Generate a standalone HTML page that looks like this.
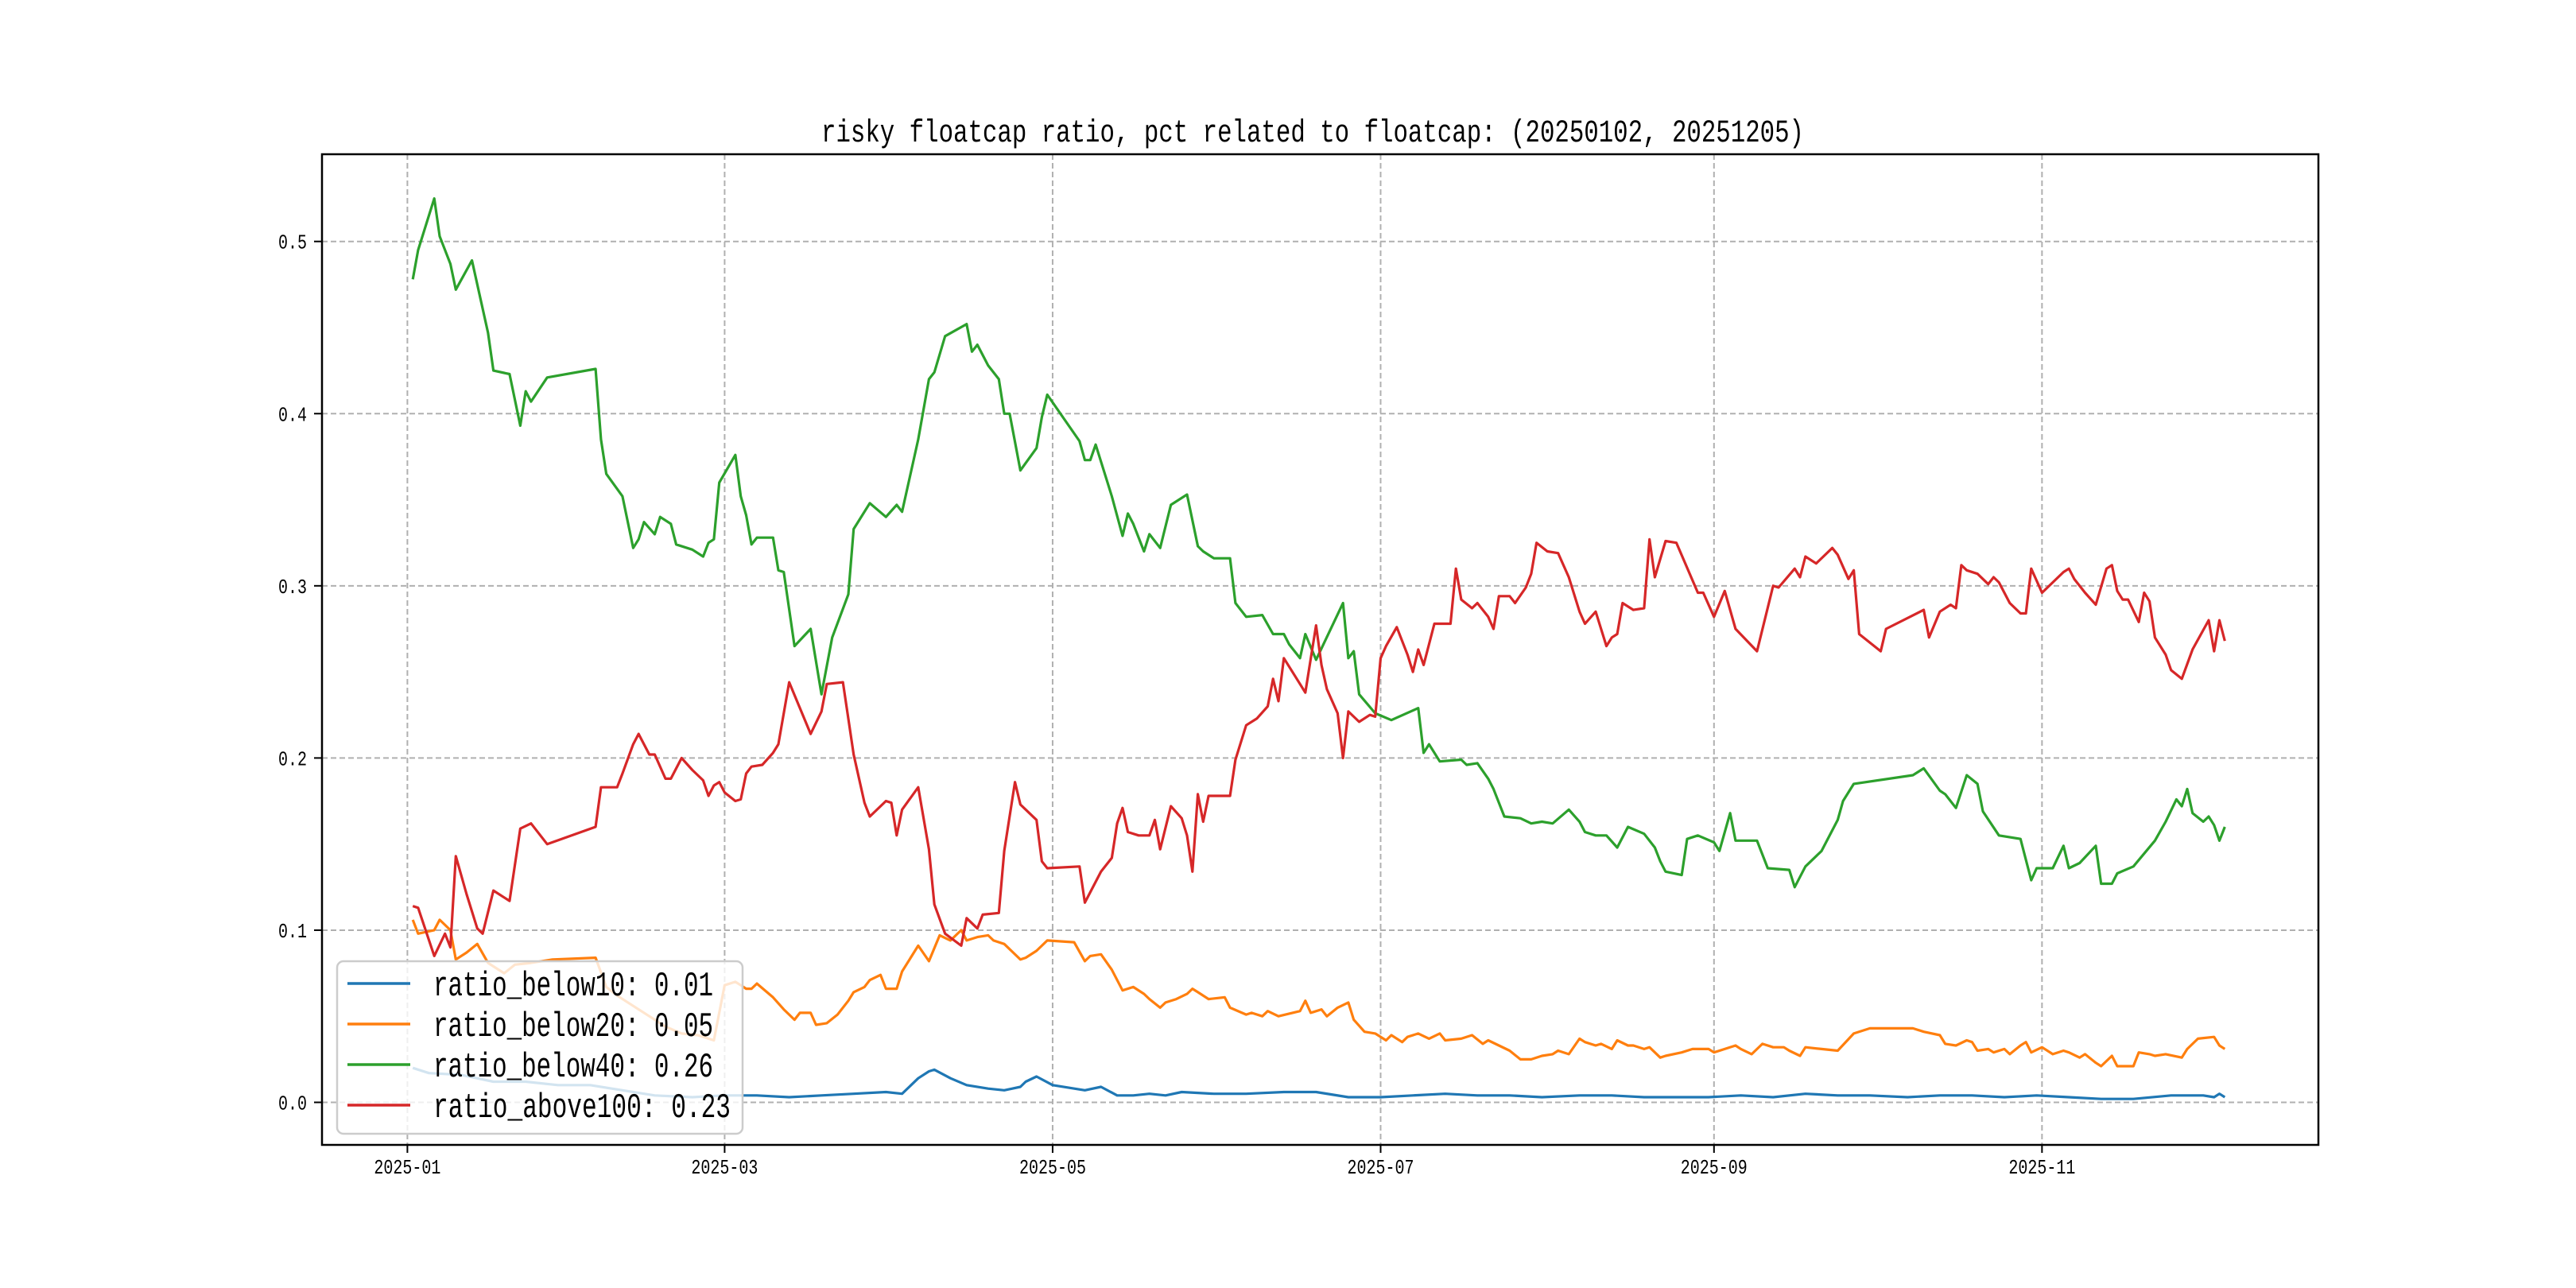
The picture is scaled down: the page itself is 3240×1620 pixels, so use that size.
<!DOCTYPE html>
<html><head><meta charset="utf-8"><style>
html,body{margin:0;padding:0;background:#fff;}
svg{display:block;}
text{font-family:"Liberation Mono","WenQuanYi Zen Hei",monospace;fill:#000;}
</style></head><body>
<svg id="chart" width="3240" height="1620" viewBox="0 0 3240 1620" xmlns="http://www.w3.org/2000/svg">
<rect x="0" y="0" width="3240" height="1620" fill="#fff"/>
<g id="grid"></g>
<g id="series"></g>
<rect x="405" y="194" width="2511" height="1246" fill="none" stroke="#000" stroke-width="2.5"/>
<g id="axes"></g>
<text x="1033" y="178" font-size="40" textLength="1236" lengthAdjust="spacingAndGlyphs">risky floatcap ratio, pct related to floatcap: (20250102, 20251205)</text>
<g id="legend"></g>
</svg>
<script>
const xTickDays=[0,59,120,181,243,304];
const xTickLabels=["2025-01","2025-03","2025-05","2025-07","2025-09","2025-11"];
const yTicks=[0,0.1,0.2,0.3,0.4,0.5];
const yTickLabels=["0.0","0.1","0.2","0.3","0.4","0.5"];
const seriesNames=["ratio_below10: 0.01","ratio_below20: 0.05","ratio_below40: 0.26","ratio_above100: 0.23"];
const seriesColors=["#1f77b4","#ff7f0e","#2ca02c","#d62728"];

const blueDays=[1,4,10,16,22,28,34,40,46,53,59,65,71,77,83,89,92,95,97,98,101,104,108,111,114,115,117,120,126,129,132,135,138,141,144,150,156,163,169,175,181,187,193,199,205,211,218,224,230,236,242,248,254,260,266,272,279,285,291,297,303,309,315,321,328,334,336,337,338];
const blueVals=[.020,.017,.016,.012,.012,.010,.010,.007,.004,.003,.004,.004,.003,.004,.005,.006,.005,.014,.018,.019,.014,.010,.008,.007,.009,.012,.015,.010,.007,.009,.004,.004,.005,.004,.006,.005,.005,.006,.006,.003,.003,.004,.005,.004,.004,.003,.004,.004,.003,.003,.003,.004,.003,.005,.004,.004,.003,.004,.004,.003,.004,.003,.002,.002,.004,.004,.003,.005,.003];

const orangeDays=[1,2,5,6,8,9,11,13,15,18,20,23,27,35,37,39,42,45,48,51,54,57,59,61,62,63,64,65,68,70,72,73,75,76,78,80,82,83,85,86,88,89,91,92,95,97,99,101,103,104,106,108,109,111,114,115,117,119,124,126,127,129,131,133,135,137,138,140,141,143,145,146,147,149,152,153,156,157,159,160,162,166,167,168,170,171,173,175,176,178,180,182,183,185,186,188,190,192,193,196,198,200,201,203,205,207,209,211,213,214,216,218,219,221,222,224,225,227,228,230,231,233,234,237,239,242,243,247,248,250,252,254,256,257,259,260,263,266,269,272,280,282,285,286,288,290,291,292,294,295,297,298,300,301,302,304,306,308,309,311,312,314,315,317,318,321,322,324,325,327,330,331,333,336,337,338];
const orangeVals=[.106,.098,.100,.106,.100,.083,.087,.092,.081,.075,.080,.081,.083,.084,.067,.062,.056,.050,.044,.040,.039,.036,.068,.070,.068,.066,.066,.069,.061,.054,.048,.052,.052,.045,.046,.051,.059,.064,.067,.071,.074,.066,.066,.076,.091,.082,.097,.094,.100,.094,.096,.097,.094,.092,.083,.084,.088,.094,.093,.082,.085,.086,.077,.065,.067,.063,.060,.055,.058,.060,.063,.066,.064,.060,.061,.055,.051,.052,.050,.053,.050,.053,.059,.052,.054,.050,.055,.058,.048,.041,.040,.036,.039,.035,.038,.040,.037,.040,.036,.037,.039,.034,.036,.033,.030,.025,.025,.027,.028,.030,.028,.037,.035,.033,.034,.031,.036,.033,.033,.031,.032,.026,.027,.029,.031,.031,.029,.033,.031,.028,.034,.032,.032,.030,.027,.032,.031,.030,.040,.043,.043,.041,.039,.034,.033,.036,.035,.030,.031,.029,.031,.028,.033,.035,.029,.032,.028,.030,.029,.026,.028,.023,.021,.027,.021,.021,.029,.028,.027,.028,.026,.031,.037,.038,.033,.031];

const greenDays=[1,2,5,6,8,9,12,15,16,19,21,22,23,26,35,36,37,40,42,43,44,46,47,49,50,53,55,56,57,58,61,62,63,64,65,68,69,70,72,75,77,79,82,83,86,89,91,92,95,97,98,100,104,105,106,108,110,111,112,114,117,118,119,125,126,127,128,131,133,134,135,137,138,140,142,145,147,148,150,153,154,156,159,161,163,164,166,167,169,174,175,176,177,180,183,188,189,190,192,196,197,199,201,202,204,207,209,211,213,216,218,219,221,223,225,227,230,232,233,234,237,238,240,243,244,246,247,251,253,257,258,260,263,266,267,269,280,282,285,286,288,290,292,293,296,300,302,303,306,308,309,311,314,315,317,318,321,325,327,329,330,331,332,334,335,336,337,338];
const greenVals=[.478,.495,.525,.503,.487,.472,.489,.447,.425,.423,.393,.413,.407,.421,.426,.385,.365,.352,.322,.327,.337,.330,.340,.336,.324,.321,.317,.325,.327,.360,.376,.352,.341,.324,.328,.328,.309,.308,.265,.275,.237,.270,.295,.333,.348,.340,.347,.343,.385,.420,.424,.445,.452,.436,.440,.428,.420,.400,.400,.367,.380,.398,.411,.384,.373,.373,.382,.352,.329,.342,.336,.320,.330,.322,.347,.353,.323,.320,.316,.316,.290,.282,.283,.272,.272,.266,.258,.272,.257,.290,.258,.262,.237,.226,.222,.229,.203,.208,.198,.199,.196,.197,.188,.182,.166,.165,.162,.163,.162,.170,.163,.157,.155,.155,.148,.160,.156,.148,.140,.134,.132,.153,.155,.151,.146,.168,.152,.152,.136,.135,.125,.137,.146,.164,.175,.185,.190,.194,.181,.179,.171,.190,.185,.169,.155,.153,.129,.136,.136,.149,.136,.139,.149,.127,.127,.133,.137,.152,.163,.176,.172,.182,.168,.163,.166,.161,.152,.160];

const redDays=[1,2,5,7,8,9,11,13,14,16,18,19,21,23,26,35,36,39,40,42,43,45,46,48,49,51,53,55,56,57,58,59,61,62,63,64,66,68,69,71,75,77,78,81,83,85,86,89,90,91,92,95,97,98,100,103,104,106,107,110,111,113,114,117,118,119,125,126,129,131,132,133,134,136,138,139,140,142,144,145,146,147,148,149,153,154,156,158,160,161,162,163,166,167,169,170,171,173,174,175,177,179,180,181,182,184,186,187,188,189,191,194,195,196,198,199,201,202,203,205,206,208,209,210,212,214,216,218,219,221,223,224,225,226,228,230,231,232,234,236,240,241,243,245,247,251,254,255,258,259,260,262,265,266,268,269,270,274,275,282,283,285,287,288,289,290,292,294,295,296,298,300,301,302,304,306,308,309,310,312,314,316,317,318,319,320,322,323,324,325,327,328,330,332,335,336,337,338];
const redVals=[.114,.113,.085,.098,.090,.143,.121,.101,.098,.123,.119,.117,.159,.162,.150,.160,.183,.183,.191,.208,.214,.202,.202,.188,.188,.200,.193,.187,.178,.184,.186,.180,.175,.176,.191,.195,.196,.203,.208,.244,.214,.227,.243,.244,.202,.174,.166,.175,.174,.155,.170,.183,.147,.115,.098,.091,.107,.101,.109,.110,.146,.186,.173,.164,.140,.136,.137,.116,.134,.142,.162,.171,.157,.155,.155,.164,.147,.172,.165,.155,.134,.179,.163,.178,.178,.199,.219,.223,.230,.246,.233,.258,.243,.238,.277,.254,.240,.226,.200,.227,.221,.225,.224,.258,.265,.276,.260,.250,.263,.254,.278,.278,.310,.292,.287,.290,.282,.275,.294,.294,.290,.299,.307,.325,.320,.319,.305,.285,.278,.285,.265,.270,.272,.290,.286,.287,.327,.305,.326,.325,.296,.296,.282,.297,.275,.262,.300,.299,.310,.305,.317,.313,.322,.318,.304,.309,.272,.262,.275,.286,.270,.285,.289,.287,.312,.309,.307,.301,.305,.302,.290,.284,.284,.310,.296,.302,.308,.310,.304,.296,.289,.310,.312,.297,.292,.292,.279,.296,.291,.270,.260,.251,.246,.263,.280,.262,.280,.268];

const X0=512.4, XS=6.763, Y0=1386.5, YS=2165.6;
function xScale(d){return X0+d*XS;}
function yScale(v){return Y0-v*YS;}
const NS="http://www.w3.org/2000/svg";
function mk(tag,attrs,parent){const e=document.createElementNS(NS,tag);for(const k in attrs)e.setAttribute(k,attrs[k]);parent.appendChild(e);return e;}
const grid=document.getElementById('grid'), axes=document.getElementById('axes'), ser=document.getElementById('series'), leg=document.getElementById('legend');

xTickDays.forEach((d,i)=>{
  const x=xScale(d);
  const g=mk('line',{x1:x,x2:x,y1:194,y2:1440,stroke:'#b0b0b0','stroke-width':2,'stroke-dasharray':'7,4'},grid);
  
  
  const t=mk('line',{x1:x,x2:x,y1:1440,y2:1450,stroke:'#000','stroke-width':2},axes);
  
  
  const l=mk('text',{x:x,y:1476,'font-size':26,'text-anchor':'middle',textLength:84,lengthAdjust:'spacingAndGlyphs'},axes);
  l.textContent=xTickLabels[i];
  
  
});
yTicks.forEach((v,i)=>{
  const y=yScale(v);
  const g=mk('line',{x1:405,x2:2916,y1:y,y2:y,stroke:'#b0b0b0','stroke-width':2,'stroke-dasharray':'7,4'},grid);
  
  
  const t=mk('line',{x1:395,x2:405,y1:y,y2:y,stroke:'#000','stroke-width':2},axes);
  
  
  const l=mk('text',{x:386,y:y+9,'font-size':26,'text-anchor':'end',textLength:36,lengthAdjust:'spacingAndGlyphs'},axes);
  l.textContent=yTickLabels[i];
  
  
});

const allDays=[blueDays,orangeDays,greenDays,redDays];
const allVals=[blueVals,orangeVals,greenVals,redVals];
const lineNames=['line-ratio-below10','line-ratio-below20','line-ratio-below40','line-ratio-above100'];
allDays.forEach((days,s)=>{
  const vals=allVals[s];
  const n=Math.min(days.length,vals.length);
  let d='';
  for(let i=0;i<n;i++){d+=(i?'L':'M')+xScale(days[i]).toFixed(1)+','+yScale(vals[i]).toFixed(1);}
  const p=mk('path',{d:d,fill:'none',stroke:seriesColors[s],'stroke-width':3.2,'stroke-linejoin':'round'},ser);
  
  
});

const box=mk('rect',{x:424,y:1209,width:510,height:217,rx:8,fill:'#fff','fill-opacity':0.8,stroke:'#cccccc','stroke-width':2.5},leg);


const rowY=[1237,1288,1339,1390];
const txtW=[352,352,352,374];
seriesNames.forEach((nm,i)=>{
  const h=mk('line',{x1:437,x2:516,y1:rowY[i],y2:rowY[i],stroke:seriesColors[i],'stroke-width':3.5},leg);
  
  
  const t=mk('text',{x:545,y:rowY[i]+15,'font-size':44,textLength:txtW[i],lengthAdjust:'spacingAndGlyphs'},leg);
  t.textContent=nm;
  
  
});
</script>
</body></html>
